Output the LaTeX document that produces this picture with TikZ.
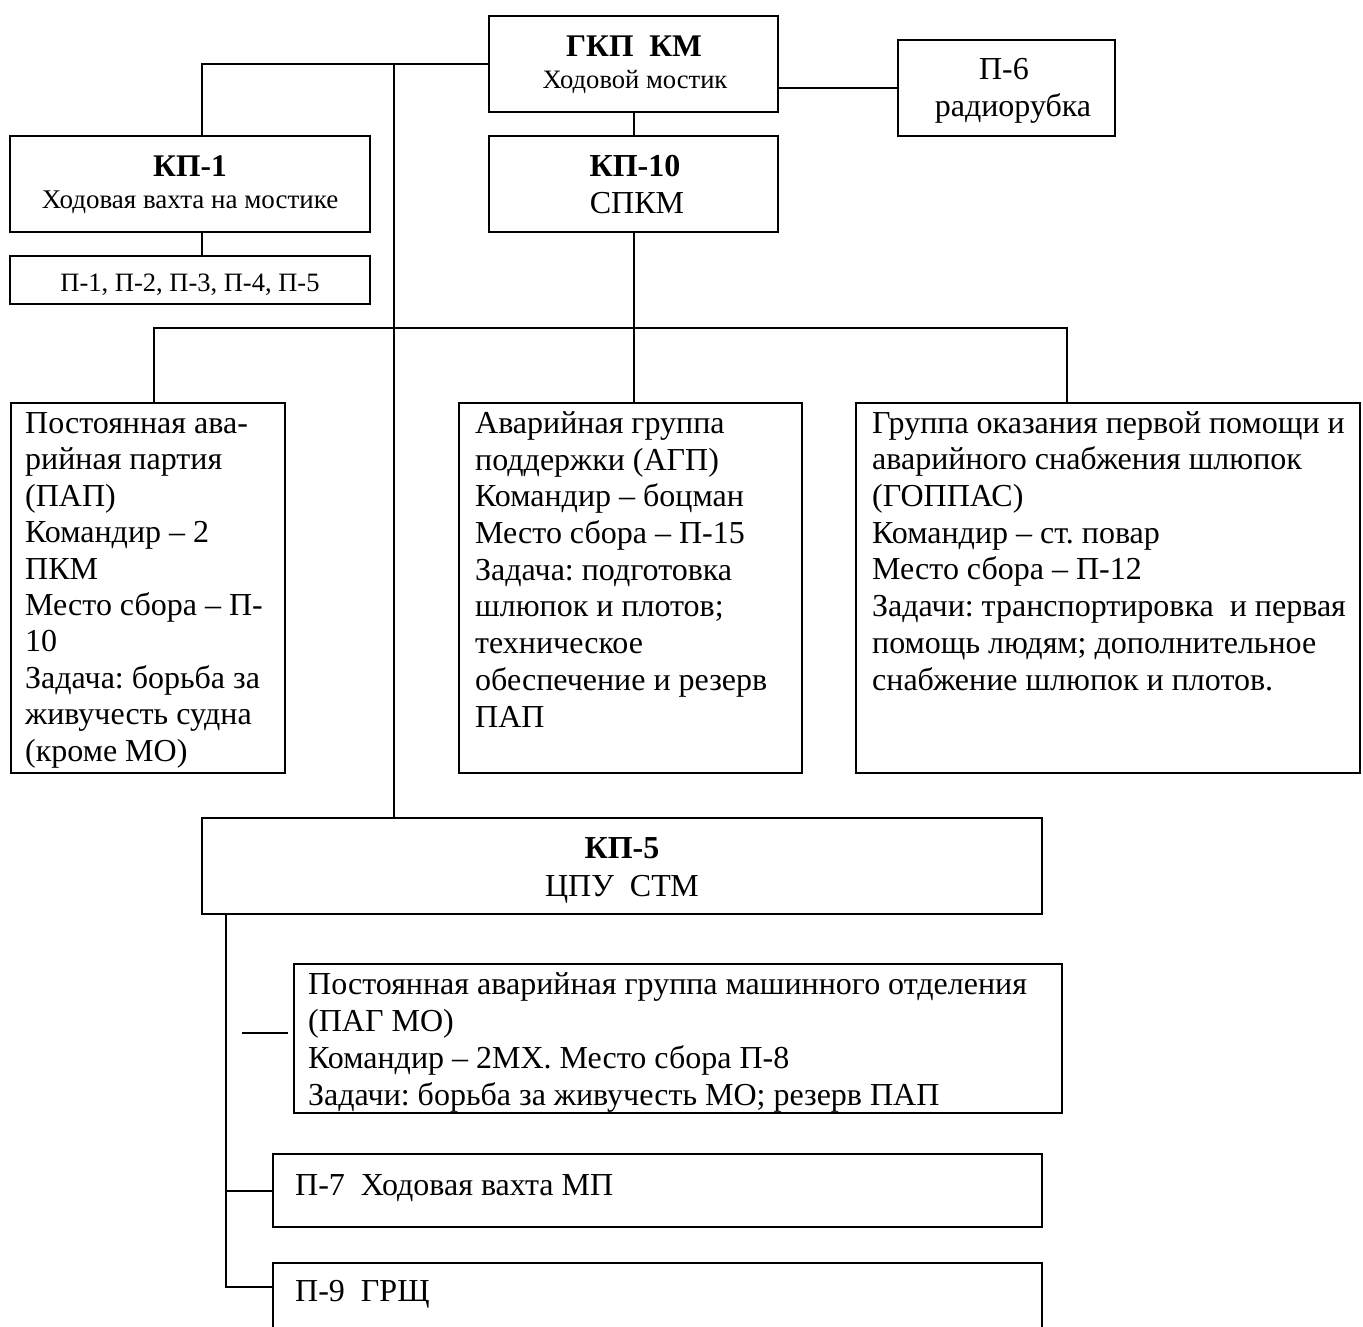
\documentclass[tikz,border=0pt]{standalone}
\usepackage{fontspec}
\setmainfont{Liberation Serif}
\usetikzlibrary{positioning}
\newcommand{\fsz}[2]{\fontsize{#1}{#2}\selectfont}
\frenchspacing

\begin{document}
\begin{tikzpicture}[x=1pt,y=-1pt,
    box/.style={draw,line width=2pt,inner sep=0pt,outer sep=0pt,anchor=north west},
    txt/.style={inner sep=0pt,align=left,anchor=north west},
    line/.style={inner sep=0pt,anchor=base},
    wire/.style={line width=2pt}]

  \useasboundingbox (0,0) rectangle (1363,1327);
  \clip (0,0) rectangle (1363,1327);

  % top row
  \node[box,minimum width=289,minimum height=96] (gkp) at (489,16) {};
  \node[box,minimum width=289,minimum height=96] (kp10) at (489,136) {};
  \node[box,minimum width=217,minimum height=96] (radio) at (898,40) {};
  \node[box,minimum width=360,minimum height=96] (kp1) at (10,136) {};
  \node[box,minimum width=360,minimum height=48] (p15) at (10,256) {};

  \node[line,font=\fsz{31.5}{36}\bfseries] (gkptitle) at (634,56.7) {ГКП~~КМ};
  \node[line,font=\fsz{26.6}{32}] (gkpsub) at (635,88.3) {Ходовой мостик};
  \node[line,font=\fsz{32}{37}\bfseries] (kp10title) at (635,176.7) {КП-10};
  \node[line,font=\fsz{32}{37}] (kp10sub) at (637,213.3) {СПКМ};
  \node[line,font=\fsz{32}{37}] (radiotitle) at (1004,80) {П-6};
  \node[line,font=\fsz{32}{37}] (radiosub) at (1013,117) {радиорубка};
  \node[line,font=\fsz{31.5}{36}\bfseries] (kp1title) at (190,176.7) {КП-1};
  \node[line,font=\fsz{27}{32}] (kp1sub) at (190,208.3) {Ходовая вахта на мостике};
  \node[line,font=\fsz{26.5}{32}] (p15text) at (190,291.7) {П-1, П-2, П-3, П-4, П-5};

  % middle row
  \node[box,minimum width=274,minimum height=370] (pap) at (11,403) {};
  \node[box,minimum width=343,minimum height=370] (agp) at (459,403) {};
  \node[box,minimum width=504,minimum height=370] (goppas) at (856,403) {};

  \node[txt,font=\fsz{32}{36.4}] (paptext) at (25,407.8) {\strut Постоянная ава-\\рийная партия\\(ПАП)\\Командир – 2\\ПКМ\\Место сбора – П-\\10\\Задача: борьба за\\живучесть судна\\(кроме МО)};
  \node[txt,font=\fsz{32}{36.7}] (agptext) at (475,407.6) {\strut Аварийная группа\\поддержки (АГП)\\Командир – боцман\\Место сбора – П-15\\Задача: подготовка\\шлюпок и плотов;\\техническое\\обеспечение и резерв\\ПАП};
  \node[txt,font=\fsz{32}{36.7}] (goppastext) at (872,407.3) {\strut Группа оказания первой помощи и\\аварийного снабжения шлюпок\\(ГОППАС)\\Командир – ст. повар\\Место сбора – П-12\\Задачи: транспортировка~~и первая\\помощь людям; дополнительное\\снабжение шлюпок и плотов.};

  % bottom part
  \node[box,minimum width=840,minimum height=96] (kp5) at (202,818) {};
  \node[box,minimum width=768,minimum height=149] (pag) at (294,964) {};
  \node[box,minimum width=769,minimum height=73] (p7) at (273,1154) {};
  \node[box,minimum width=769,minimum height=100] (p9) at (273,1263) {};

  \node[line,font=\fsz{32}{37}\bfseries] (kp5title) at (622,858.3) {КП-5};
  \node[line,font=\fsz{32}{37}] (kp5sub) at (622,896) {ЦПУ~~СТМ};
  \node[txt,font=\fsz{32}{37}] (pagtext) at (308,968.4) {\strut Постоянная аварийная группа машинного отделения\\(ПАГ МО)\\Командир – 2МХ. Место сбора П-8\\Задачи: борьба за живучесть МО; резерв ПАП};
  \node[line,anchor=base west,font=\fsz{32}{37}] (p7text) at (295,1195) {П-7~~Ходовая вахта МП};
  \node[line,anchor=base west,font=\fsz{32}{37}] (p9text) at (295,1301.7) {П-9~~ГРЩ};

  % connectors
  \coordinate (trunk) at (394,64);
  \draw[wire] (gkp.west) -| ([xshift=12pt]kp1.north);
  \draw[wire] (trunk) -- (trunk |- kp5.north);
  \draw[wire] ([xshift=12pt]kp1.south) -- ([xshift=12pt]p15.north);
  \draw[wire] (gkp.south) -- (kp10.north);
  \draw[wire] (gkp.east |- radio.west) -- (radio.west);
  \draw[wire] (kp10.south) -- (kp10.south |- agp.north);
  \draw[wire] ([xshift=6pt]pap.north) -- ++(0,-75) -| ([xshift=-41pt]goppas.north); % bus

  \draw[wire] ([xshift=24pt]kp5.south west) |- (p7.west);
  \draw[wire] ([xshift=24pt]kp5.south west) |- ([yshift=-24pt]p9.north west);
  \draw[wire] ([xshift=-52pt,yshift=5.5pt]pag.west) -- ([xshift=-6pt,yshift=5.5pt]pag.west); % stub

\end{tikzpicture}
\end{document}
